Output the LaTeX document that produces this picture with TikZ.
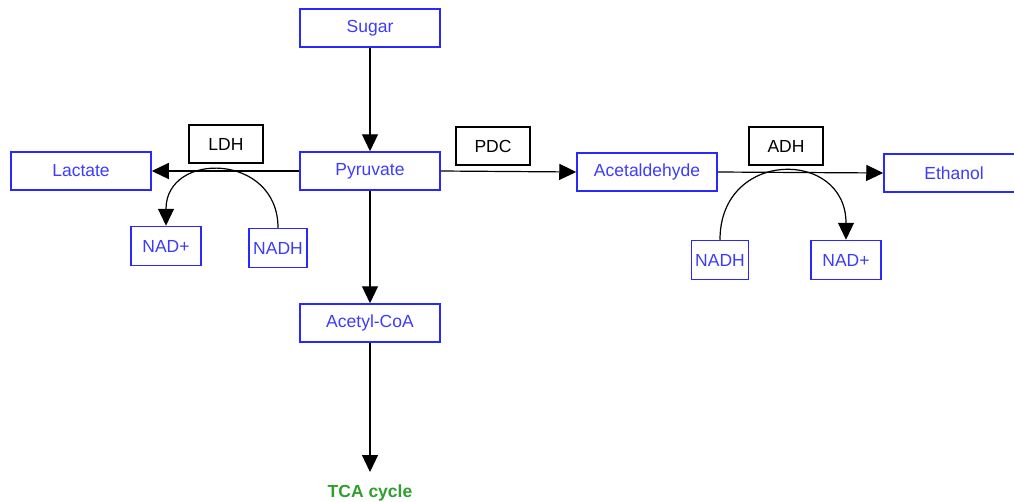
\documentclass[tikz,border=0pt]{standalone}
\usepackage{fontspec}
\setmainfont{Liberation Sans}
\usepackage{xcolor}
\usetikzlibrary{arrows.meta, positioning}
\definecolor{MetBlue}{RGB}{40,40,255}
\definecolor{MetText}{RGB}{60,60,250}
\definecolor{CycleGreen}{RGB}{45,160,45}
\tikzset{
  metab/.style={draw=MetBlue, line width=1.5pt, text=MetText, minimum width=140pt,
                minimum height=38pt, inner sep=0pt, font=\fontsize{17.5}{20}\selectfont},
  cofac/.style={metab, minimum width=#1, minimum height=39pt},
  enzyme/.style={draw=black, line width=1.4pt, minimum width=74pt, minimum height=38pt,
                 inner sep=0pt, font=\fontsize{17.5}{20}\selectfont},
  flow/.style={line width=1.2pt, -{Triangle[length=17pt, width=16pt]}},
}
\begin{document}
\begin{tikzpicture}[x=1pt, y=-1pt]
\useasboundingbox (0,0) rectangle (1014,501);
% main chain
\node[metab] (sugar) at (370,28) {Sugar};
\node[metab] (pyr) at (370,171) {Pyruvate};
\node[metab] (acoa) at (370,323) {Acetyl-CoA};
\node[font=\fontsize{17.5}{20}\selectfont\bfseries, text=CycleGreen, anchor=north,
      inner sep=13pt] (tca) at (370,472) {TCA cycle};
% lactate branch
\node[metab] (lac) at (81,171) {Lactate};
\node[enzyme] (ldh) at (226,144) {LDH};
\node[cofac=70pt] (nadL) at (166,246) {NAD+};
\node[cofac=58pt] (nadhL) at (278,248) {NADH};
% ethanol branch
\node[metab] (acet) at (647,172) {Acetaldehyde};
\node[enzyme] (pdc) at (493,146) {PDC};
\node[enzyme] (adh) at (786,146) {ADH};
\node[metab] (eth) at (954,173) {Ethanol};
\node[cofac=57pt] (nadhR) at (720,260) {NADH};
\node[cofac=70pt] (nadR) at (846,260) {NAD+};

\draw[flow] (sugar) -- (pyr);
\draw[flow] (pyr) -- (acoa);
\draw[flow] (acoa) -- (tca);
\draw[flow] (pyr) -- (lac);
\draw[flow] (pyr.east) -- (acet.west);
\draw[flow] (acet.east) -- (eth.west);
% cofactor turnover
\draw[flow] (nadhL.north) .. controls +(0,-75) and +(0,-75) .. (nadL.north);
\draw[flow] (nadhR.north) .. controls +(0,-91) and +(0,-91) .. (nadR.north);
\end{tikzpicture}
\end{document}
